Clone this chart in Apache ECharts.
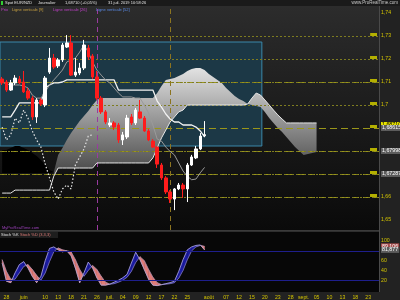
<!DOCTYPE html>
<html><head><meta charset="utf-8">
<script src="https://cdn.jsdelivr.net/npm/echarts@6/dist/echarts.min.js"></script>
<style>html,body{margin:0;padding:0;background:#222;}#c{width:400px;height:300px;}</style>
</head><body><div id="c"></div>
<script>
// ---------- DATA ----------
const days = ['27','28','29','30','31','juin','04','05','06','07','10','11','12','13','14','17','18','19','20','21','24','25','26','27','28',
 'juil.','02','03','04','05','08','09','10','11','12','15','16','17','18','19','22','23','24','25','26','29','30','31',
 'août','02','05','06','07','08','09','12','13','14','15','16','19','20','21','22','23','26','27','28','29','30',
 'sept.','03','04','05','06','09','10','11','12','13','16','17','18','19','20','23','24','25'];
const shownDays = [1,5,10,13,16,19,22,25,28,31,34,37,40,43,48,52,55,58,61,64,67,70,73,76,79,82,85];
// [open, close, low, high]
const ohlc = [
 [1.7113,1.7096,1.7087,1.7122],[1.7100,1.7065,1.7057,1.7109],[1.7065,1.7096,1.7061,1.7109],[1.7096,1.7117,1.7087,1.7130],
 [1.7113,1.7096,1.7091,1.7126],[1.7100,1.7057,1.7052,1.7148],[1.7061,1.7030,1.7022,1.7074],[1.7030,1.6948,1.6935,1.7039],
 [1.6948,1.7022,1.6922,1.7030],[1.7022,1.7004,1.6996,1.7030],[1.7000,1.7117,1.6991,1.7126],[1.7143,1.7204,1.7135,1.7248],
 [1.7204,1.7165,1.7157,1.7222],[1.7170,1.7196,1.7161,1.7204],[1.7196,1.7261,1.7187,1.7270],[1.7252,1.7270,1.7248,1.7304],
 [1.7270,1.7130,1.7126,1.7304],[1.7130,1.7143,1.7122,1.7204],[1.7139,1.7161,1.7130,1.7183],[1.7161,1.7261,1.7152,1.7283],
 [1.7248,1.7209,1.7196,1.7261],[1.7213,1.7122,1.7113,1.7222],[1.7122,1.7030,1.7022,1.7148],[1.7030,1.6970,1.6961,1.7039],
 [1.6970,1.6926,1.6917,1.6978],[1.6913,1.6922,1.6904,1.6943],[1.6922,1.6904,1.6891,1.6930],[1.6913,1.6848,1.6835,1.6922],
 [1.6848,1.6870,1.6826,1.6883],[1.6861,1.6943,1.6852,1.6957],[1.6948,1.6922,1.6913,1.6961],[1.6922,1.6978,1.6913,1.6987],
 [1.6970,1.6943,1.6939,1.7022],[1.6943,1.6887,1.6883,1.6952],[1.6887,1.6848,1.6843,1.6896],[1.6843,1.6817,1.6813,1.6852],
 [1.6817,1.6743,1.6726,1.6822],[1.6739,1.6683,1.6674,1.6748],[1.6683,1.6622,1.6613,1.6691],[1.6622,1.6591,1.6574,1.6630],
 [1.6591,1.6635,1.6543,1.6639],[1.6635,1.6652,1.6630,1.6661],[1.6652,1.6635,1.6596,1.6661],[1.6635,1.6739,1.6578,1.6748],
 [1.6739,1.6774,1.6735,1.6783],[1.6770,1.6809,1.6765,1.6822],[1.6809,1.6865,1.6804,1.6878],[1.6866,1.6871,1.6860,1.6930]
];
const tenkan = [1.7100,1.7091,1.7087,1.7087,1.7087,1.7083,1.7074,1.7043,1.7030,1.7030,1.7057,1.7087,1.7109,1.7130,1.7152,1.7187,
 1.7196,1.7204,1.7230,1.7261,1.7230,1.7187,1.7152,1.7130,1.7109,1.7096,1.7074,1.7052,1.7035,1.7035,1.7035,1.7030,
 1.7030,1.7000,1.6965,1.6913,1.6852,1.6843,1.6817,1.6798,1.6783,1.6748,1.6713,1.6690,1.6675,1.6678,1.6705,1.67287];
const kijun = [1.6948,1.6948,1.6948,1.6978,1.7009,1.7009,1.7009,1.7009,1.7009,1.7009,1.7074,1.7087,1.7096,1.7096,1.7100,
 1.7109,1.7109,1.7109,1.7109,1.7109,1.7109,1.7109,1.7109,1.7109,1.7109,1.7109,1.7109,
 1.7065,1.7065,1.7065,1.7065,1.7065,1.7065,1.7065,1.7065,1.7065,
 1.7017,1.6991,1.6961,1.6939,1.6926,1.6926,1.6913,1.6913,1.6913,1.6904,1.6887,1.6861];
const senkouA = [1.6804,1.6804,1.6813,1.6822,1.6822,1.6813,1.6804,1.6791,1.6778,1.6761,1.6739,1.6717,1.6709,1.6783,1.6813,
 1.6848,1.6878,1.6904,1.6930,1.6952,1.6974,1.7000,1.7022,
 1.7030,1.7030,1.7030,1.7030,1.7030,1.7030,1.7030,1.7030,1.7030,1.7030,1.7030,1.7030,1.7030,
 1.7052,1.7083,1.7109,1.7113,1.7117,1.7126,1.7135,1.7148,1.7157,1.7161,1.7161,1.7152,1.7135,1.7122,1.7109,1.7096,
 1.7074,1.7057,1.7039,1.7026,1.7017,1.7004,1.7000,1.6996,1.6991,1.6970,1.6943,1.6922,1.6900,1.6883,1.6861,1.6839,
 1.6817,1.6800,1.6783,1.6787,1.6791,1.6796];
const senkouB = [1.6617,1.6617,1.6617,
 1.6630,1.6630,1.6630,1.6630,1.6630,1.6630,1.6630,1.6630,1.6630,
 1.6691,
 1.6726,1.6726,1.6726,1.6726,1.6726,1.6726,1.6726,1.6726,1.6726,
 1.6748,1.6748,1.6748,1.6748,1.6748,1.6748,1.6748,1.6748,1.6748,1.6748,1.6748,1.6748,1.6748,
 1.6770,1.6813,1.6857,1.6891,1.6926,1.6948,1.6970,1.6978,
 1.7000,1.7000,1.7000,1.7000,1.7000,1.7000,1.7000,1.7000,1.7000,1.7000,1.7000,1.7000,1.7000,1.7000,
 1.7004,1.7030,1.7052,1.7043,1.7022,1.7000,1.6978,1.6957,1.6939,
 1.6922,1.6922,1.6922,1.6922,1.6922,1.6922,1.6922,1.6922];
// lower edge of the dark part of the cloud (left side)
const darkFloor = [1.6704,1.6704,1.6704,1.6704,1.6704,1.6704,1.6704,1.6704,1.6704,1.6704,1.6704,1.6704,1.6709];
const stochK = [55,18,15,35,52,58,45,28,15,28,60,85,88,82,78,80,70,45,15,35,57,45,25,10,10,12,16,20,25,32,55,77,
 62,42,22,10,9,11,13,15,18,38,62,82,88,91,92,81.877];
const stochD = [62,38,22,22,35,48,52,42,30,20,35,58,78,86,82,80,78,62,42,28,40,50,42,28,16,12,13,16,20,26,38,56,
 68,60,42,26,15,11,12,13,15,24,40,62,80,88,91,89.106];
const priceTicks = [1.65,1.66,1.67,1.70,1.71,1.72,1.73,1.74];
const stochTicks = [20,40,60,100];
const levelsDashed = [1.71304,1.69478,1.6871,1.68,1.67287,1.66609,1.6587];
const levelsDotted = [1.72696,1.72435,1.71826,1.7113,1.70,1.69739,1.68174,1.67478,1.66478];
const priceTags = [1.69173,1.6871,1.68615,1.67998,1.67287];
const lastPrice = 1.6871;
const stochTags = [89.106,81.877];
const stochLevels = [80,20];
const vLines = [22,39];
const zoneBox = {x0:-0.5, x1:60.3, top:1.72739, bottom:1.68217};

// ---------- CHART ----------
const PMIN = 1.645652, PMAX = 1.743043;
const chart = echarts.init(document.getElementById('c'), null, {width:400, height:300});
const N = days.length;
const closes = ohlc.map(c => c[1]);
const pad = arr => days.map((d, i) => i < arr.length ? arr[i] : null);
const chikou = days.map((d, i) => i + 26 < closes.length ? closes[i + 26] : null);
const tickFmt = v => String(parseFloat(v.toFixed(2))).replace('.', ',');
const FONT = 'Liberation Sans';
const DARK_END = 12;

function renderKumo(params, api) {
  if (params.dataIndex !== 0) return null;
  const P = (i, v) => api.coord([i, v]);
  const up = [], lo = [], dUp = [], dLo = [];
  for (let i = DARK_END; i < senkouA.length; i++) {
    up.push(P(i, Math.max(senkouA[i], senkouB[i])));
    lo.push(P(i, Math.min(senkouA[i], senkouB[i])));
  }
  for (let i = 0; i <= DARK_END; i++) {
    dUp.push(P(i, senkouA[i]));
    dLo.push(P(i, darkFloor[i]));
  }
  const top = Math.min(...up.map(p => p[1]));
  const bot = Math.max(...lo.map(p => p[1]));
  const grad = new echarts.graphic.LinearGradient(0, top, 0, bot, [
    {offset: 0, color: '#e2e2e2'}, {offset: 1, color: '#444444'}], true);
  return {type: 'group', children: [
    {type: 'polygon', shape: {points: dUp.concat(dLo.reverse())}, style: {fill: '#000000'}},
    {type: 'polygon', shape: {points: up.concat(lo.reverse())}, style: {fill: grad}}
  ]};
}

function renderStoch(params, api) {
  const i = params.dataIndex;
  if (i >= stochK.length - 1) return null;
  const BLUE = '#1b1ba0', PINK = '#e07c78';
  const k0 = stochK[i], d0 = stochD[i], k1 = stochK[i + 1], d1 = stochD[i + 1];
  const K0 = api.coord([i, k0]), D0 = api.coord([i, d0]), K1 = api.coord([i + 1, k1]), D1 = api.coord([i + 1, d1]);
  const s0 = k0 - d0, s1 = k1 - d1;
  const col = s => s >= 0 ? BLUE : PINK;
  const poly = (pts, c) => ({type: 'polygon', shape: {points: pts}, style: {fill: c, stroke: c, lineWidth: 0.4}});
  if (s0 * s1 >= 0) return poly([K0, K1, D1, D0], col(s0 + s1));
  const t = s0 / (s0 - s1);
  const X = [K0[0] + t * (K1[0] - K0[0]), K0[1] + t * (K1[1] - K0[1])];
  return {type: 'group', children: [poly([K0, X, D0], col(s0)), poly([X, K1, D1], col(s1))]};
}

const fmtNum = (v, d) => v.toFixed(d).replace('.', ',');
const tagLabel = (bg, fg, text, extra) => Object.assign({show: true, position: 'end', distance: 2, formatter: text,
  backgroundColor: bg, color: fg, fontSize: 5.3, fontFamily: FONT, padding: [0, 1], lineHeight: 6}, extra || {});
const hiddenLine = {color: 'rgba(0,0,0,0)', width: 0};

const yellowBox = {show: true, position: 'insideEndTop', formatter: ' ', backgroundColor: '#b4b000',
  fontSize: 3, padding: [0, 3], distance: [2, 0], lineHeight: 3};

const option = {
  animation: false,
  backgroundColor: '#222222',
  textStyle: {fontFamily: FONT},
  grid: [
    {left: 0, right: 21, top: 6, height: 224, show: true, borderWidth: 0,
      backgroundColor: {type: 'linear', x: 0, y: 0, x2: 0, y2: 1, colorStops: [{offset: 0, color: '#2c2c2c'}, {offset: 1, color: '#0a0a0a'}]}},
    {left: 0, right: 21, top: 232, height: 60, show: true, borderWidth: 0, backgroundColor: '#070707'}
  ],
  xAxis: [
    {type: 'category', gridIndex: 0, data: days, boundaryGap: true, axisLine: {show: false}, axisTick: {show: false}, axisLabel: {show: false}, splitLine: {show: false}},
    {type: 'category', gridIndex: 1, data: days, boundaryGap: true, axisLine: {show: false}, axisTick: {show: false},
      axisLabel: {show: true, interval: (i) => shownDays.indexOf(i) >= 0, color: '#d4c400', fontSize: 5.2, margin: 3, fontFamily: FONT}, splitLine: {show: false}},
    {type: 'value', gridIndex: 0, min: -0.5, max: N - 0.5, show: false}
  ],
  yAxis: [
    {type: 'value', gridIndex: 0, position: 'right', min: PMIN, max: PMAX, splitLine: {show: false}, axisLine: {show: false}, axisTick: {show: false},
      axisLabel: {customValues: priceTicks, formatter: tickFmt, color: '#d4c400', fontSize: 5.2, margin: 2, fontFamily: FONT,
        showMinLabel: true, showMaxLabel: true, hideOverlap: false}},
    {type: 'value', gridIndex: 1, position: 'right', min: -4, max: 118.4, splitLine: {show: false}, axisLine: {show: false}, axisTick: {show: false},
      axisLabel: {customValues: stochTicks, color: '#d4c400', fontSize: 5.2, margin: 2, fontFamily: FONT, showMinLabel: true, showMaxLabel: true}}
  ],
  series: [
    {type: 'line', xAxisIndex: 2, yAxisIndex: 0, data: [], z: 1, silent: true,
      markArea: {silent: true, itemStyle: {color: '#1c3846', borderColor: '#3b88aa', borderWidth: 1},
        data: [[{xAxis: zoneBox.x0, yAxis: zoneBox.top}, {xAxis: zoneBox.x1, yAxis: zoneBox.bottom}]]}},
    {type: 'custom', xAxisIndex: 0, yAxisIndex: 0, z: 2, silent: true, renderItem: renderKumo,
      data: senkouA.map((v, i) => [i, v, senkouB[i]]), encode: {x: 0, y: [1, 2]}},
    {type: 'line', xAxisIndex: 0, yAxisIndex: 0, data: [], z: 3, silent: true,
      markLine: {silent: true, symbol: ['none', 'none'], label: yellowBox,
        lineStyle: {color: '#9a961a', width: 1, type: [7, 4]},
        data: levelsDashed.map(v => ({yAxis: v}))}},
    {type: 'line', xAxisIndex: 0, yAxisIndex: 0, data: [], z: 3, silent: true,
      markLine: {silent: true, symbol: ['none', 'none'], label: yellowBox,
        lineStyle: {color: '#7e7c20', width: 1, type: [2, 2]},
        data: levelsDotted.map(v => ({yAxis: v}))}},
    {type: 'line', xAxisIndex: 0, yAxisIndex: 0, data: [], z: 4, silent: true,
      markLine: {silent: true, symbol: ['none', 'none'], label: {show: false},
        data: [{xAxis: vLines[0], lineStyle: {color: '#9a3aa0', width: 1, type: [5, 4]}},
               {xAxis: vLines[1], lineStyle: {color: '#8c7420', width: 1, type: [5, 4]}}]}},
    {type: 'line', name: 'SSB', xAxisIndex: 0, yAxisIndex: 0, data: pad(senkouB), symbol: 'none', z: 5,
      lineStyle: {color: '#e6e6e6', width: 1}},
    {type: 'line', name: 'Chikou', xAxisIndex: 0, yAxisIndex: 0, data: chikou, symbol: 'none', z: 5,
      lineStyle: {color: '#e8e8e8', width: 1.2, type: [1.5, 2]}},
    {type: 'line', name: 'Kijun', xAxisIndex: 0, yAxisIndex: 0, data: pad(kijun), symbol: 'none', z: 6,
      lineStyle: {color: '#f2f2f2', width: 1.3}},
    {type: 'line', name: 'Tenkan', xAxisIndex: 0, yAxisIndex: 0, data: pad(tenkan), symbol: 'none', z: 6,
      lineStyle: {color: '#9a9a9a', width: 1}},
    {type: 'candlestick', xAxisIndex: 0, yAxisIndex: 0, data: ohlc, barWidth: 3, z: 10,
      itemStyle: {color: '#ffffff', color0: '#ff1c1c', borderColor: '#ffffff', borderColor0: '#ff1c1c', borderWidth: 1}},
    {type: 'line', xAxisIndex: 0, yAxisIndex: 0, data: [], z: 12, silent: true,
      markLine: {silent: true, symbol: ['none', 'none'], lineStyle: hiddenLine,
        data: priceTags.map(v => v === lastPrice
          ? {yAxis: v, lineStyle: hiddenLine, label: tagLabel('#e8e400', '#000', fmtNum(v, 5), {offset: [0, -3]})}
          : {yAxis: v, lineStyle: hiddenLine, label: tagLabel('#5c5c5c', '#ffffff', fmtNum(v, 5))})}},
    // stochastic
    {type: 'custom', xAxisIndex: 1, yAxisIndex: 1, z: 2, silent: true, renderItem: renderStoch,
      data: stochK.map((v, i) => [i, v, stochD[i]]), encode: {x: 0, y: [1, 2]}},
    {type: 'line', xAxisIndex: 1, yAxisIndex: 1, data: [], z: 1, silent: true,
      markLine: {silent: true, symbol: ['none', 'none'], label: {show: false},
        lineStyle: {color: '#1e1e8c', width: 1, type: 'solid'}, data: stochLevels.map(v => ({yAxis: v}))}},
    {type: 'line', name: 'Stoch %K', xAxisIndex: 1, yAxisIndex: 1, data: pad(stochK), symbol: 'none', z: 4,
      lineStyle: {color: '#b8aee0', width: 0.8}},
    {type: 'line', name: 'Stoch %D', xAxisIndex: 1, yAxisIndex: 1, data: pad(stochD), symbol: 'none', z: 4,
      lineStyle: {color: '#a89cc8', width: 0.6}},
    {type: 'line', xAxisIndex: 1, yAxisIndex: 1, data: [], z: 12, silent: true,
      markLine: {silent: true, symbol: ['none', 'none'], lineStyle: hiddenLine,
        data: [{yAxis: stochTags[0], lineStyle: hiddenLine, label: tagLabel('#a84c4c', '#ffffff', fmtNum(stochTags[0], 3))},
               {yAxis: stochTags[1], lineStyle: hiddenLine, label: tagLabel('#5c5c5c', '#ffffff', fmtNum(stochTags[1], 3))}]}}
  ],
  graphic: [
    {type: 'rect', z: -10, shape: {x: 0, y: 0, width: 400, height: 6}, style: {fill: '#1a1a1a'}},
    {type: 'rect', z: 100, shape: {x: 379, y: 6, width: 1, height: 286}, style: {fill: '#4a4a4a'}},
    {type: 'rect', z: 100, shape: {x: 0, y: 230, width: 379, height: 1.5}, style: {fill: '#3a3a3a'}},
    {type: 'rect', z: 100, shape: {x: 1, y: 1, width: 2, height: 4}, style: {fill: '#33cc33'}},
    {type: 'text', z: 100, x: 5, y: 3.2, style: {text: 'Spot EUR/NZD', fill: '#e0e0e0', font: '4px ' + FONT, verticalAlign: 'middle'}},
    {type: 'text', z: 100, x: 38, y: 3.2, style: {text: 'Journalier', fill: '#e0e0e0', font: '4px ' + FONT, verticalAlign: 'middle'}},
    {type: 'text', z: 100, x: 65, y: 3.2, style: {text: '1,68710 (+0,05%)', fill: '#e0e0e0', font: '4px ' + FONT, verticalAlign: 'middle'}},
    {type: 'text', z: 100, x: 108, y: 3.2, style: {text: '31 juil. 2019 10:58:26', fill: '#e0e0e0', font: '4px ' + FONT, verticalAlign: 'middle'}},
    {type: 'text', z: 100, x: 398, y: 3.2, style: {text: 'www.ProRealTime.com', fill: '#c8c8c8', font: '4.5px ' + FONT, align: 'right', verticalAlign: 'middle'}},
    {type: 'text', z: 100, x: 1, y: 9.5, style: {text: 'Prix', fill: '#c040c8', font: '4px ' + FONT, verticalAlign: 'middle'}},
    {type: 'text', z: 100, x: 12, y: 9.5, style: {text: 'Ligne verticale [9]', fill: '#c8a040', font: '4px ' + FONT, verticalAlign: 'middle'}},
    {type: 'text', z: 100, x: 53, y: 9.5, style: {text: 'Ligne verticale [26]', fill: '#c040c8', font: '4px ' + FONT, verticalAlign: 'middle'}},
    {type: 'text', z: 100, x: 96, y: 9.5, style: {text: 'Ligne verticale [52]', fill: '#5a8ae6', font: '4px ' + FONT, verticalAlign: 'middle'}},
    {type: 'text', z: 100, x: 2, y: 227.5, style: {text: 'MyProRealTime.com', fill: '#9a40b8', font: '4px ' + FONT, verticalAlign: 'middle'}},
    {type: 'rect', z: 99, shape: {x: 0, y: 232, width: 58, height: 6}, style: {fill: '#1e1e1e'}},
    {type: 'text', z: 100, x: 1, y: 235, style: {text: 'Stoch %K', fill: '#e0e0e0', font: '4px ' + FONT, verticalAlign: 'middle'}},
    {type: 'text', z: 100, x: 20, y: 235, style: {text: 'Stoch %D (3,3,3)', fill: '#e07c78', font: '4px ' + FONT, verticalAlign: 'middle'}}
  ]
};
chart.setOption(option);
</script>
</body></html>
